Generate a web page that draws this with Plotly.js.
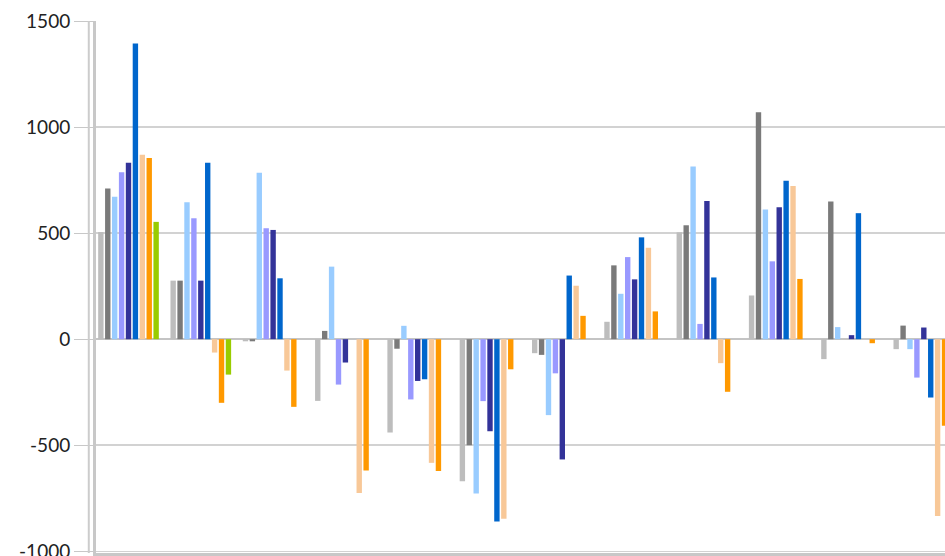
<!DOCTYPE html>
<html>
<head>
<meta charset="utf-8">
<script src="https://cdn.plot.ly/plotly-3.0.1.min.js"></script>
<style>html,body{margin:0;padding:0;background:#fff;}#chart{width:945px;height:556px;}</style>
</head>
<body>
<div id="chart"></div>
<script>
const categories = ['1','2','3','4','5','6','7','8','9','10','11','12'];
const seriesNames = ['Series 1','Series 2','Series 3','Series 4','Series 5','Series 6','Series 7','Series 8','Series 9'];
const seriesColors = ['#bdbdbd','#7a7a7a','#99ccff','#9999ff','#333399','#0066cc','#f8c898','#ff9900','#99cc00'];
const s1 = [505, 276, -10, -291, -440, -670, -66, 82, 504, 206, -94, -47];
const s2 = [710, 276, -10, 39, -45, -500, -74, 348, 537, 1070, 649, 64];
const s3 = [672, 646, 785, 342, 63, -728, -358, 214, 814, 611, 57, -47];
const s4 = [787, 570, 523, -214, -284, -292, -161, 387, 72, 367, 0, -181];
const s5 = [832, 276, 515, -110, -197, -434, -567, 282, 652, 622, 19, 55];
const s6 = [1394, 832, 287, 0, -189, -859, 300, 480, 291, 747, 594, -275];
const s7 = [869, -63, -148, -725, -583, -846, 252, 431, -113, 722, 0, -833];
const s8 = [854, -300, -319, -619, -621, -142, 110, 131, -248, 284, -19, -408];
const s9 = [553, -167, 0, 0, 0, 0, 0, 0, 0, 0, 0, 0];
const yTicks = [-1000, -500, 0, 500, 1000, 1500];

const allSeries = [s1, s2, s3, s4, s5, s6, s7, s8, s9];
const data = allSeries.map((vals, i) => ({
  type: 'bar',
  name: seriesNames[i],
  x: categories,
  y: vals,
  marker: {color: seriesColors[i], line: {width: 0}}
}));

const layout = {
  width: 945, height: 556,
  margin: {l: 96, r: 0, t: 21, b: 3, pad: 0},
  paper_bgcolor: '#ffffff',
  plot_bgcolor: '#ffffff',
  showlegend: false,
  barmode: 'group',
  bargap: 0.14,
  bargroupgap: 0.22,
  font: {family: 'Lato, "Open Sans", sans-serif', color: '#222'},
  xaxis: {
    type: 'category',
    range: [-0.4495, 11.293],
    showticklabels: false,
    ticks: '',
    showgrid: false,
    showline: true, linecolor: '#c8c8c8', linewidth: 3,
    zeroline: false, fixedrange: true
  },
  yaxis: {
    range: [-1008, 1500],
    tickvals: yTicks,
    ticktext: yTicks.map(String),
    ticks: 'outside', ticklen: 19, tickcolor: '#c8c8c8', tickwidth: 1,
    tickfont: {size: 19, color: '#222', family: 'Lato, "Open Sans", sans-serif'},
    ticklabeloverflow: 'allow',
    showgrid: true, gridcolor: '#d2d2d2', gridwidth: 1.5,
    zeroline: true, zerolinecolor: '#c4c4c4', zerolinewidth: 2,
    showline: true, linecolor: '#c8c8c8', linewidth: 3,
    fixedrange: true
  },
  shapes: [
    {type: 'line', xref: 'paper', yref: 'y', x0: -0.0085, x1: -0.0085, y0: -1008, y1: 1500,
     line: {color: '#cccccc', width: 2}}
  ]
};

Plotly.newPlot('chart', data, layout, {displayModeBar: false, staticPlot: true});
</script>
</body>
</html>
